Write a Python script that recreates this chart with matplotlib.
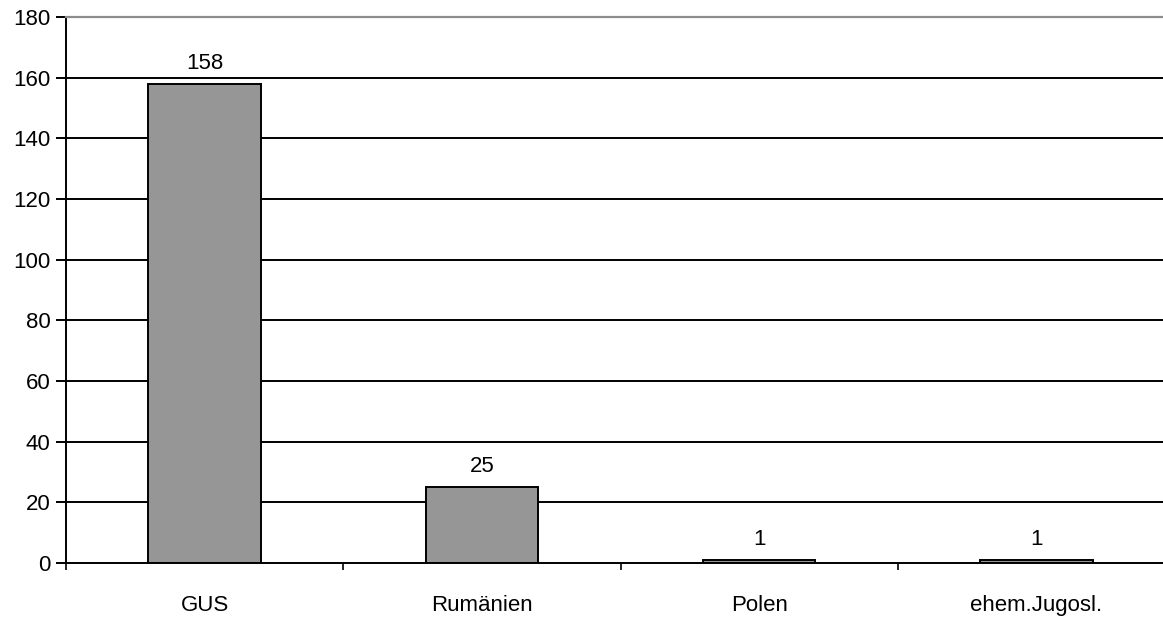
import matplotlib
matplotlib.use("Agg")
import matplotlib.pyplot as plt
import numpy as np

categories = ["GUS", "Rumänien", "Polen", "ehem.Jugosl."]
values = [158, 25, 1, 1]
yticks = [0, 20, 40, 60, 80, 100, 120, 140, 160, 180]

plt.rcParams["font.family"] = ["Liberation Sans", "DejaVu Sans"]
FS = 16

W, H = 1163, 617
fig = plt.figure(figsize=(W / 100, H / 100), dpi=100)
# plot area runs slightly past the right edge, as in the reference
ax = fig.add_axes([66 / W, (H - 563) / H, (1175 - 66) / W, (563 - 17) / H])

x = np.arange(len(categories))
ax.set_xlim(-0.5, len(categories) - 0.5)
ax.set_ylim(0, 180)

for yv in yticks[1:-1]:
    ax.axhline(yv, color="black", lw=1.4, zorder=1)

bars = ax.bar(x, values, width=0.405, color="#969696", edgecolor="black", lw=1.4, zorder=2)
for xi, v in zip(x, values):
    ax.text(xi, v + 3.3, str(v), ha="center", va="bottom", fontsize=FS)

ax.set_yticks(yticks)
ax.set_yticklabels([str(t) for t in yticks], fontsize=FS)
ax.tick_params(axis="y", direction="out", length=7, width=1.4, pad=4)

ax.set_xticks(np.arange(-0.5, len(categories) + 0.5, 1.0))
ax.set_xticklabels([])
ax.tick_params(axis="x", direction="out", length=5, width=1.2)
for xi, c in zip(x, categories):
    ax.text(xi, -0.077, c, transform=ax.get_xaxis_transform(), ha="center", va="center", fontsize=FS)

ax.spines["left"].set_linewidth(1.4)
ax.spines["bottom"].set_linewidth(1.4)
ax.spines["top"].set_color("#8c8c8c")
ax.spines["top"].set_linewidth(1.6)
ax.spines["right"].set_visible(False)

fig.savefig("out.png", dpi=100, facecolor="white")
